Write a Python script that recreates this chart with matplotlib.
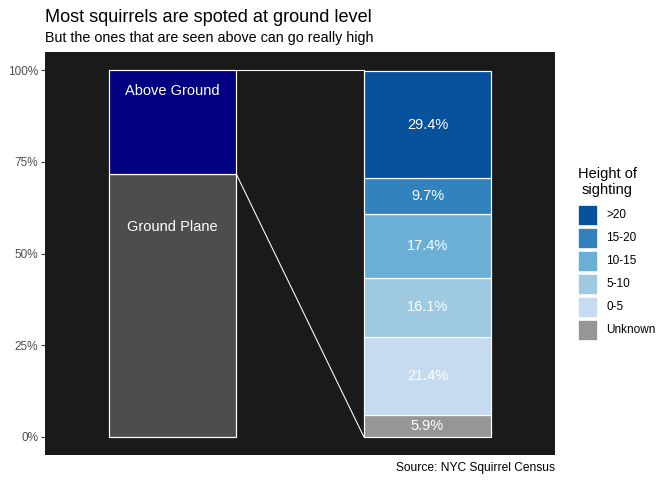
import matplotlib
matplotlib.use("Agg")
import matplotlib.pyplot as plt
from matplotlib.patches import Patch

plt.rcParams["font.family"] = ["Liberation Sans", "DejaVu Sans"]

# left bar: where squirrels were seen
locations = ["Ground Plane", "Above Ground"]
location_share = [0.717, 0.283]
location_colors = ["#4D4D4D", "#000080"]

# right bar: height of sighting for the above-ground ones
heights = ["Unknown", "0-5", "5-10", "10-15", "15-20", ">20"]
height_pct = [5.9, 21.4, 16.1, 17.4, 9.7, 29.4]
height_colors = ["#969696", "#C6DBEF", "#9ECAE1", "#6BAED6", "#3182BD", "#08519C"]

yticks = [0, 0.25, 0.5, 0.75, 1.0]
ytick_labels = ["0%", "25%", "50%", "75%", "100%"]

fig = plt.figure(figsize=(7, 5), dpi=96)
ax = fig.add_axes([45 / 672, 25 / 480, 510 / 672, 403 / 480])
ax.set_facecolor("#1A1A1A")

bw = 0.5
bottom = 0
for name, share, col in zip(locations, location_share, location_colors):
    ax.bar(1, share, bottom=bottom, width=bw, color=col, edgecolor="white", linewidth=0.9)
    ax.text(1, bottom + 0.8 * share, name, color="white", ha="center", va="center", fontsize=11)
    bottom += share
ground_top = location_share[0]

bottom = 0
for name, pct, col in zip(heights, height_pct, height_colors):
    v = pct / 100
    ax.bar(2, v, bottom=bottom, width=bw, color=col, edgecolor="white", linewidth=0.9)
    ax.text(2, bottom + v / 2, f"{pct}%", color="white", ha="center", va="center", fontsize=11)
    bottom += v

# connector lines between the bars
ax.plot([1 + bw / 2, 2 - bw / 2], [1.0, 1.0], color="white", lw=0.8)
ax.plot([1 + bw / 2, 2 - bw / 2], [ground_top, 0], color="white", lw=0.8)

ax.set_xlim(0.5, 2.5)
ax.set_ylim(-0.05, 1.05)
ax.set_xticks([])
ax.set_yticks(yticks)
ax.set_yticklabels(ytick_labels)
ax.tick_params(axis="y", length=2.75, width=0.8, color="#333333", labelcolor="#4D4D4D",
               labelsize=8.8, pad=2.2)
for s in ax.spines.values():
    s.set_visible(False)

fig.text(45 / 672, 1 - 22 / 480, "Most squirrels are spoted at ground level", fontsize=13.6,
         va="baseline", ha="left")
fig.text(45 / 672, 1 - 42 / 480, "But the ones that are seen above can go really high", fontsize=10.7,
         va="baseline", ha="left")
fig.text(555 / 672, 1 - 471 / 480, "Source: NYC Squirrel Census", fontsize=9,
         va="baseline", ha="right")

handles = [Patch(facecolor=c, edgecolor="white", linewidth=0.5, label=n)
           for n, c in zip(heights[::-1], height_colors[::-1])]
leg = fig.legend(handles=handles, title="Height of\nsighting", loc="upper left",
                 bbox_to_anchor=(574 / 672, 1 - 163 / 480), frameon=False,
                 fontsize=8.8, title_fontsize=11, handlelength=1.7, handleheight=2.25,
                 labelspacing=0.25, handletextpad=0.75, borderpad=0.3, borderaxespad=0)
leg._legend_box.align = "left"
leg._legend_box.sep = 6
leg.get_title().set_multialignment("center")

fig.savefig("out.png", dpi=96)
